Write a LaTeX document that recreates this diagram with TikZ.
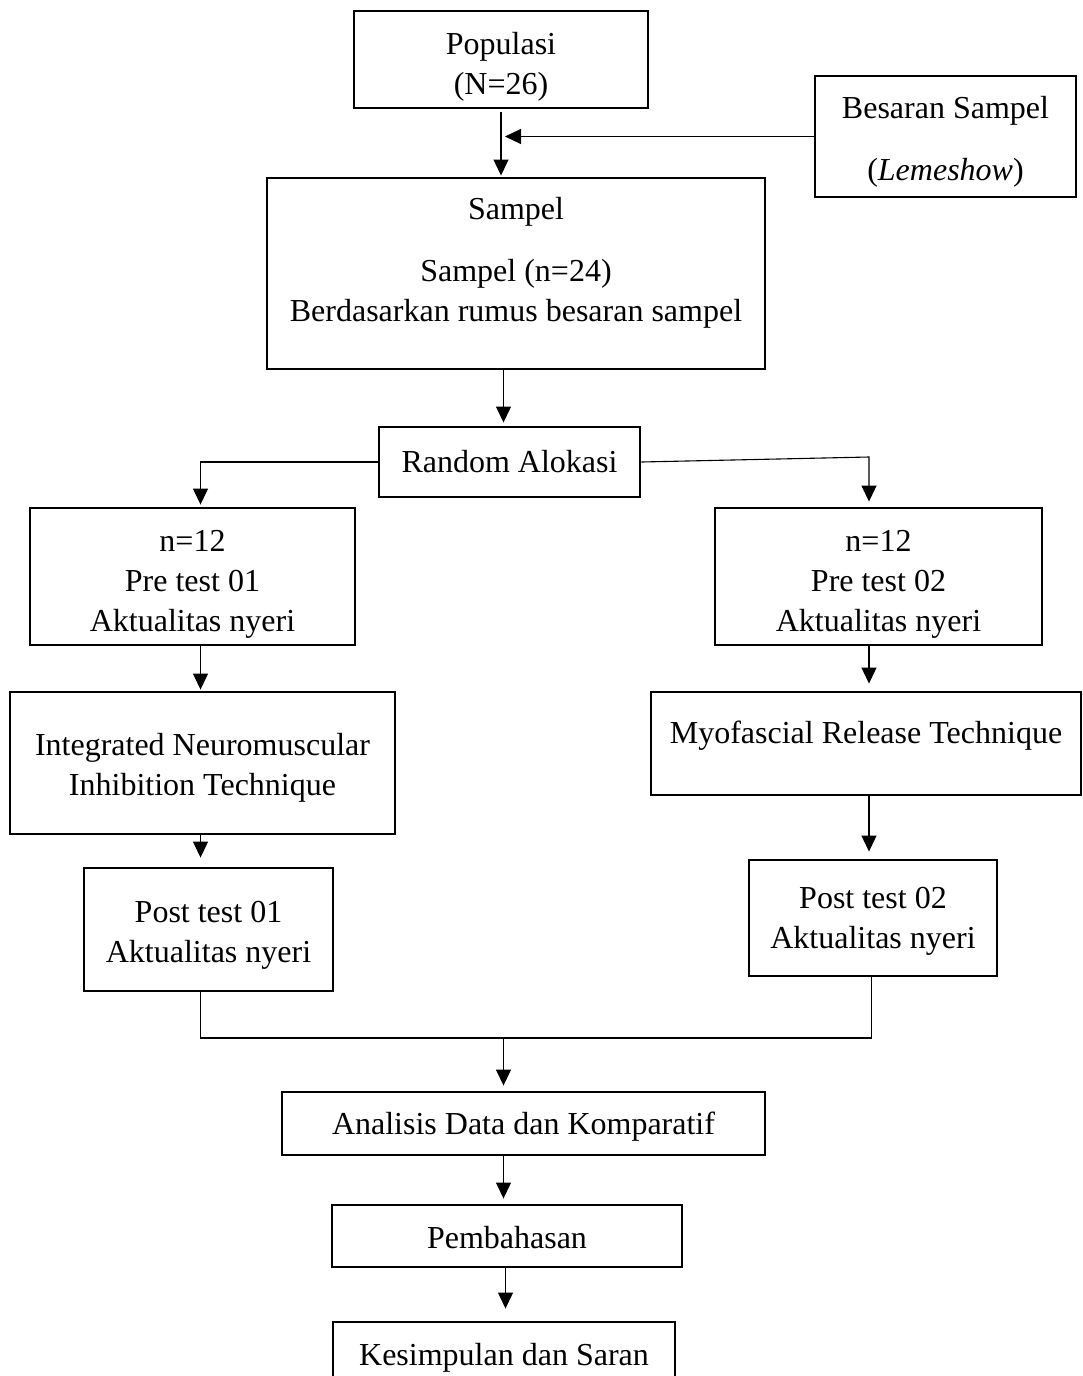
\documentclass[tikz,border=0pt]{standalone}
\usepackage{fontspec}
\setmainfont{Liberation Serif}
\usetikzlibrary{arrows.meta,calc}
\newcommand{\tup}[1]{\rule{0pt}{#1pt}}
\begin{document}
\begin{tikzpicture}[x=1pt,y=-1pt,
  box/.style={draw=black,line width=2.9pt,rectangle,align=center,inner sep=0pt,
    font=\fontsize{32}{40}\selectfont},
  conn/.style={draw=black,line width=1.1pt},
  arr/.style={conn,-{Triangle[length=16pt,width=15pt]}}]
\useasboundingbox (0,0) rectangle (1083,1376);
\clip (0,0) rectangle (1083,1376);
\fill[white] (0,0) rectangle (1083,1376);

\node[box,minimum width=294pt,minimum height=97pt] (pop) at (501,59.5) {\tup{36}Populasi\\(N=26)};
\node[box,minimum width=261pt,minimum height=121pt] (bes) at (945.5,136.5) {\tup{32}Besaran Sampel\\[22pt](\textit{Lemeshow})};
\node[box,minimum width=498pt,minimum height=191pt] (samp) at (516,273.5) {\tup{28}Sampel\\[22pt]Sampel (n=24)\\Berdasarkan rumus besaran sampel\\[-6pt]\mbox{}};
\node[box,minimum width=261pt,minimum height=70pt] (rand) at (509.5,462) {Random Alokasi};
\node[box,minimum width=325pt,minimum height=137pt] (pre1) at (192.5,576.5) {\tup{37}n=12\\Pre test 01\\Aktualitas nyeri};
\node[box,minimum width=327pt,minimum height=137pt] (pre2) at (878.5,576.5) {\tup{37}n=12\\Pre test 02\\Aktualitas nyeri};
\node[box,minimum width=385pt,minimum height=142pt] (int) at (202.5,763) {\tup{32}Integrated Neuromuscular\\Inhibition Technique};
\node[box,minimum width=430pt,minimum height=103pt] (myo) at (866,743.5) {Myofascial Release Technique\\[-18pt]\mbox{}};
\node[box,minimum width=249pt,minimum height=123pt] (post1) at (208.5,929.5) {\tup{32}Post test 01\\Aktualitas nyeri};
\node[box,minimum width=248pt,minimum height=116pt] (post2) at (873,918) {\tup{28}Post test 02\\Aktualitas nyeri};
\node[box,minimum width=483pt,minimum height=63pt] (ana) at (523.5,1123.5) {\tup{28}Analisis Data dan Komparatif};
\node[box,minimum width=350pt,minimum height=62pt] (pem) at (507,1236) {\tup{26}Pembahasan};
\node[box,minimum width=342pt,minimum height=62pt] (kes) at (504,1353) {\tup{32}Kesimpulan dan Saran};

\coordinate (xL) at (200.5,0);
\coordinate (xM) at (503.5,0);
\coordinate (xR) at (869,0);
\coordinate (rc) at (869,457);
\coordinate (xR2) at (871.5,0);
\coordinate (jn) at (0,1038);

\draw[arr,shorten <=3pt,shorten >=1pt] (pop.south) -- (pop.south |- samp.north);
\draw[arr] (bes.west) -- ($(pop.south |- bes.west)+(4,0)$);
\draw[arr,shorten >=3pt] (xM |- samp.south) -- (xM |- rand.north);
\draw[arr,shorten >=2pt] (rand.west) -- (xL |- rand.west) -- (xL |- pre1.north);
\draw[arr,shorten >=5pt] (rand.east) -- (rc) -- (rc |- pre2.north);
\draw[arr,shorten >=1pt] (xL |- pre1.south) -- (xL |- int.north);
\draw[arr,shorten >=7pt] (xR |- pre2.south) -- (xR |- myo.north);
\draw[arr,shorten >=9pt] (xL |- int.south) -- (xL |- post1.north);
\draw[arr,shorten >=7pt] (xR |- myo.south) -- (xR |- post2.north);
\draw[conn] (xL |- post1.south) -- (xL |- jn) -- (xR2 |- jn) -- (xR2 |- post2.south);
\draw[arr,shorten >=5pt] (xM |- jn) -- (xM |- ana.north);
\draw[arr,shorten >=5pt] (xM |- ana.south) -- (xM |- pem.north);
\draw[arr,shorten >=12pt] ($(xM |- pem.south)+(2,0)$) -- ($(xM |- kes.north)+(2,0)$);
\end{tikzpicture}
\end{document}
